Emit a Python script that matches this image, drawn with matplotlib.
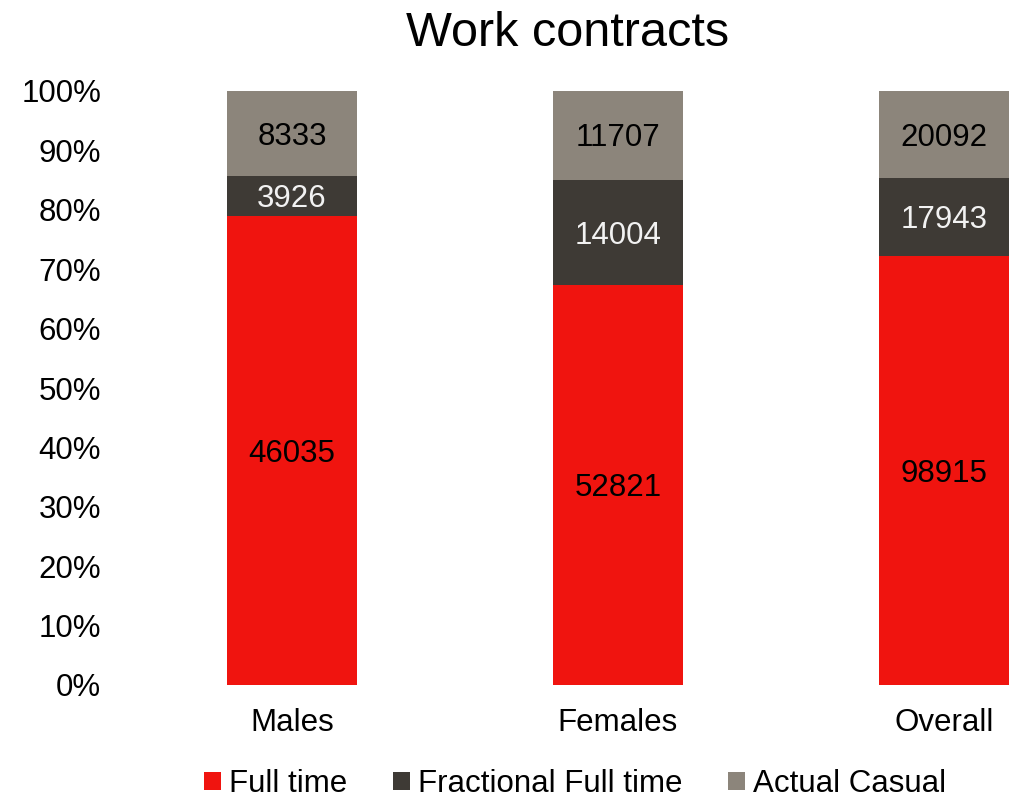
import matplotlib
matplotlib.use("Agg")
import matplotlib.pyplot as plt
import numpy as np
from matplotlib.ticker import FuncFormatter

plt.rcParams['font.family'] = ['Liberation Sans', 'DejaVu Sans']

categories = ["Males", "Females", "Overall"]
series_names = ["Full time", "Fractional Full time", "Actual Casual"]
full_time = [46035, 52821, 98915]
fractional = [3926, 14004, 17943]
casual = [8333, 11707, 20092]
colors = ["#F0140F", "#3E3A35", "#8C857B"]
label_colors = ["#000000", "#F2F2F2", "#000000"]

data = np.array([full_time, fractional, casual], dtype=float)
totals = data.sum(axis=0)
pct = data / totals * 100

fig = plt.figure(figsize=(10.17, 7.98), dpi=100)
ax = fig.add_axes([129/1017, 113/798, 888/1017, 594/798])

x = np.arange(len(categories))
bottom = np.zeros(len(categories))
handles = []
for i, name in enumerate(series_names):
    bars = ax.bar(x, pct[i], bottom=bottom, width=0.4, color=colors[i], label=name)
    handles.append(bars)
    for j in range(len(categories)):
        ax.annotate(f"{int(data[i][j])}", (x[j], bottom[j] + pct[i][j] / 2),
                    xytext=(0, -2.2), textcoords="offset points",
                    ha="center", va="center", fontsize=22.5, color=label_colors[i])
    bottom += pct[i]

ax.set_xlim(-0.5, -0.5 + 888/326)
ax.set_ylim(0, 100)
ax.set_yticks(np.arange(0, 101, 10))
ax.yaxis.set_major_formatter(FuncFormatter(lambda v, p: f"{int(v)}%"))
ax.set_xticks(x)
ax.set_xticklabels(categories)
ax.tick_params(axis='both', length=0, labelsize=22.5, colors="#000000")
ax.tick_params(axis='y', pad=20)
ax.tick_params(axis='x', pad=16.5)
for s in ax.spines.values():
    s.set_visible(False)

fig.text(568/1017, 1 - 33/798, "Work contracts", ha="center", va="center", fontsize=35)

fig.legend(handles=handles, labels=series_names, loc="center", bbox_to_anchor=(575/1017, 1 - 784/798),
           ncol=3, frameon=False, fontsize=22.5, handlelength=0.55, handleheight=0.55,
           handletextpad=0.25, columnspacing=1.45)

fig.savefig("out.png", dpi=100)
